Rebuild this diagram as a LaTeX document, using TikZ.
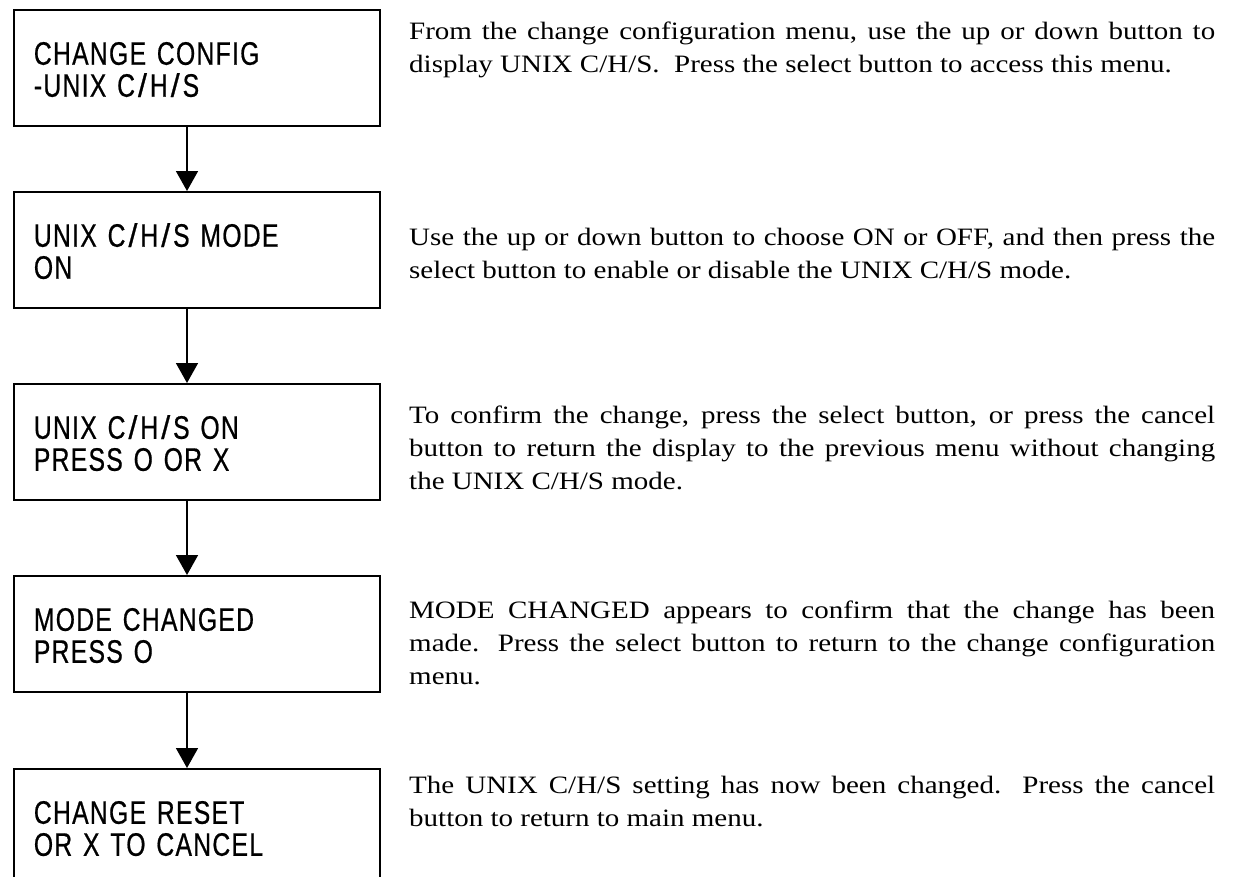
\documentclass[tikz,border=0pt]{standalone}
\usepackage{fontspec}
\usepackage{graphicx}
\usetikzlibrary{arrows.meta}
\newfontfamily\boxfont[FakeStretch=0.76, LetterSpace=4, FakeBold=0.6]{Liberation Sans}
\newfontfamily\parfont[FakeStretch=1.16]{Liberation Serif}
\hyphenpenalty=10000
\exhyphenpenalty=10000
\newcommand{\boxstrut}{\rule{0pt}{26pt}}
\newcommand{\wsl}{\kern3pt\scalebox{1.3}[1]{/}\kern3pt}
\tikzset{
  box/.style={draw=black, line width=1.8pt, rectangle, anchor=north west,
    minimum width=366pt, minimum height=116pt, text width=326pt,
    inner xsep=20pt, inner ysep=0pt, align=left,
    font=\boxfont\fontsize{32.5}{32}\selectfont},
  para/.style={anchor=base west, inner sep=0pt, text width=806pt, align=justify,
    font=\parfont\fontsize{25}{33}\selectfont},
  arr/.style={line width=1.6pt, -{Triangle[width=22pt,length=20pt]}}
}
\begin{document}
\begin{tikzpicture}[x=1pt, y=-1pt]
\useasboundingbox (0,0) rectangle (1233,876);
\clip (0,0) rectangle (1233,876);
\node[box] (b1) at (13,9) {\boxstrut CHANGE CONFIG\\-UNIX C\wsl H\wsl S};
\node[box] (b2) at (13,191) {\boxstrut UNIX C\wsl H\wsl S MODE\\ON};
\node[box] (b3) at (13,383) {\boxstrut UNIX C\wsl H\wsl S ON\\PRESS O OR X};
\node[box] (b4) at (13,575) {\boxstrut MODE CHANGED\\PRESS O};
\node[box] (b5) at (13,768) {\boxstrut CHANGE RESET\\OR X TO CANCEL};
\coordinate (ax) at (187,0);
\draw[arr] (b1.south -| ax) -- (b2.north -| ax);
\draw[arr] (b2.south -| ax) -- (b3.north -| ax);
\draw[arr] (b3.south -| ax) -- (b4.north -| ax);
\draw[arr] (b4.south -| ax) -- (b5.north -| ax);
\node[para] (t1) at (409,39) {From the change configuration menu, use the up or down button to\linebreak display UNIX C/H/S\@.\ \ Press the select button to access this menu.};
\node[para] (t2) at (409,245) {Use the up or down button to choose ON or OFF, and then press the\linebreak select button to enable or disable the UNIX C/H/S mode.};
\node[para] (t3) at (409,423) {To confirm the change, press the select button, or press the cancel\linebreak button to return the display to the previous menu without changing\linebreak the UNIX C/H/S mode.};
\node[para] (t4) at (409,618) {MODE CHANGED appears to confirm that the change has been\linebreak made.  Press the select button to return to the change configuration\linebreak menu.};
\node[para] (t5) at (409,793) {The UNIX C/H/S setting has now been changed.  Press the cancel\linebreak button to return to main menu.};
\end{tikzpicture}
\end{document}
